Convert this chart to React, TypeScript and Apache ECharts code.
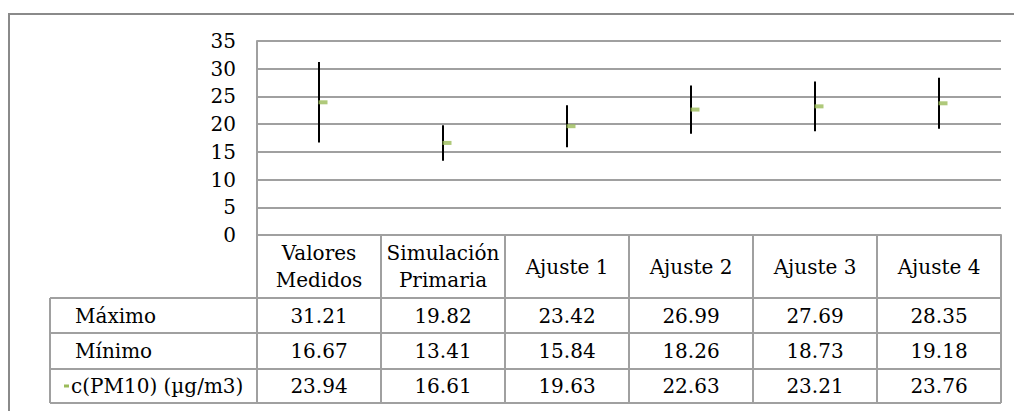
import React, { useEffect, useRef } from "react";
import * as echarts from "echarts";

const categories = ["Valores\nMedidos", "Simulación\nPrimaria", "Ajuste 1", "Ajuste 2", "Ajuste 3", "Ajuste 4"];
const maximo = [31.21, 19.82, 23.42, 26.99, 27.69, 28.35];
const minimo = [16.67, 13.41, 15.84, 18.26, 18.73, 19.18];
const media = [23.94, 16.61, 19.63, 22.63, 23.21, 23.76];
const rowLabels = ["Máximo", "Mínimo", "c(PM10) (µg/m3)"];
const rowValues = [maximo, minimo, media];

const FONT = "DejaVu Serif";
const FS = 20;
const GRID_LEFT = 257;
const GRID_TOP = 41;
const GRID_W = 744;
const GRID_H = 194;
const AXIS_Y = GRID_TOP + GRID_H;
const HEADER_BOTTOM = 298;
const ROW_BOTTOMS = [333, 369, 403];
const TABLE_LEFT = 50;
const LINE_COLOR = "#a0a0a0";
const GREEN = "#9BBB59";

export default function App() {
  const ref = useRef<HTMLDivElement>(null);
  useEffect(() => {
    document.body.style.margin = "0";
    const chart = echarts.init(ref.current!, null, { renderer: "svg" });
    const colW = GRID_W / categories.length;
    const right = GRID_LEFT + GRID_W;
    const graphics: any[] = [];
    graphics.push({
      type: "rect",
      shape: { x: 9, y: 14, width: 1030, height: 430 },
      style: { fill: "none", stroke: "#8a8a8a", lineWidth: 2 },
      silent: true,
    });
    for (let i = 0; i <= categories.length; i++) {
      const x = Math.round(GRID_LEFT + i * colW);
      graphics.push({
        type: "line",
        shape: { x1: x, y1: AXIS_Y, x2: x, y2: ROW_BOTTOMS[2] },
        style: { stroke: LINE_COLOR, lineWidth: 2 },
      });
    }
    graphics.push({
      type: "line",
      shape: { x1: TABLE_LEFT, y1: HEADER_BOTTOM, x2: TABLE_LEFT, y2: ROW_BOTTOMS[2] },
      style: { stroke: LINE_COLOR, lineWidth: 2 },
    });
    [HEADER_BOTTOM, ...ROW_BOTTOMS].forEach((y) => {
      graphics.push({
        type: "line",
        shape: { x1: TABLE_LEFT, y1: y, x2: right, y2: y },
        style: { stroke: LINE_COLOR, lineWidth: 2 },
      });
    });
    const rowTops = [HEADER_BOTTOM, ROW_BOTTOMS[0], ROW_BOTTOMS[1]];
    rowLabels.forEach((lab, r) => {
      const cy = (rowTops[r] + ROW_BOTTOMS[r]) / 2;
      graphics.push({
        type: "text",
        x: r === 2 ? 71 : 75,
        y: cy,
        style: { text: lab, fontFamily: FONT, fontSize: FS, fill: "#000", align: "left", verticalAlign: "middle" },
      });
      rowValues[r].forEach((v, i) => {
        graphics.push({
          type: "text",
          x: GRID_LEFT + (i + 0.5) * colW,
          y: cy,
          style: { text: v.toFixed(2), fontFamily: FONT, fontSize: FS, fill: "#000", align: "center", verticalAlign: "middle" },
        });
      });
    });
    graphics.push({
      type: "rect",
      shape: { x: 64, y: (rowTops[2] + ROW_BOTTOMS[2]) / 2 - 1.5, width: 5, height: 3 },
      style: { fill: GREEN },
    });

    chart.setOption({
      animation: false,
      grid: { left: GRID_LEFT, top: GRID_TOP, width: GRID_W, height: GRID_H, containLabel: false },
      xAxis: {
        type: "category",
        data: categories,
        boundaryGap: true,
        axisLine: { show: true, lineStyle: { color: LINE_COLOR, width: 2 } },
        axisTick: { show: false },
        axisLabel: {
          interval: 0,
          margin: (HEADER_BOTTOM - AXIS_Y) / 2,
          verticalAlign: "middle",
          lineHeight: 27,
          fontFamily: FONT,
          fontSize: FS,
          color: "#000",
        },
      },
      yAxis: {
        type: "value",
        min: 0,
        max: 35,
        interval: 5,
        axisLine: { show: true, lineStyle: { color: LINE_COLOR, width: 2 } },
        axisTick: { show: false },
        splitLine: { show: true, lineStyle: { color: LINE_COLOR, width: 2 } },
        axisLabel: { margin: 21, fontFamily: FONT, fontSize: FS, color: "#000" },
      },
      series: [
        {
          type: "custom",
          data: categories.map((_, i) => [i, minimo[i], maximo[i]]),
          encode: { x: 0, y: [1, 2] },
          renderItem: (params: any, api: any) => {
            const lo = api.coord([api.value(0), api.value(1)]);
            const hi = api.coord([api.value(0), api.value(2)]);
            return {
              type: "line",
              shape: { x1: lo[0], y1: lo[1], x2: hi[0], y2: hi[1] },
              style: { stroke: "#000", lineWidth: 2 },
            };
          },
          z: 3,
        },
        {
          type: "scatter",
          data: media.map((v, i) => [i, v]),
          symbol: "rect",
          symbolSize: [9, 4],
          symbolOffset: [4, 0],
          itemStyle: { color: GREEN },
          z: 4,
        },
      ],
      graphic: graphics,
    });
    return () => chart.dispose();
  }, []);
  return <div ref={ref} style={{ width: 1014, height: 411, overflow: "hidden" }} />;
}
